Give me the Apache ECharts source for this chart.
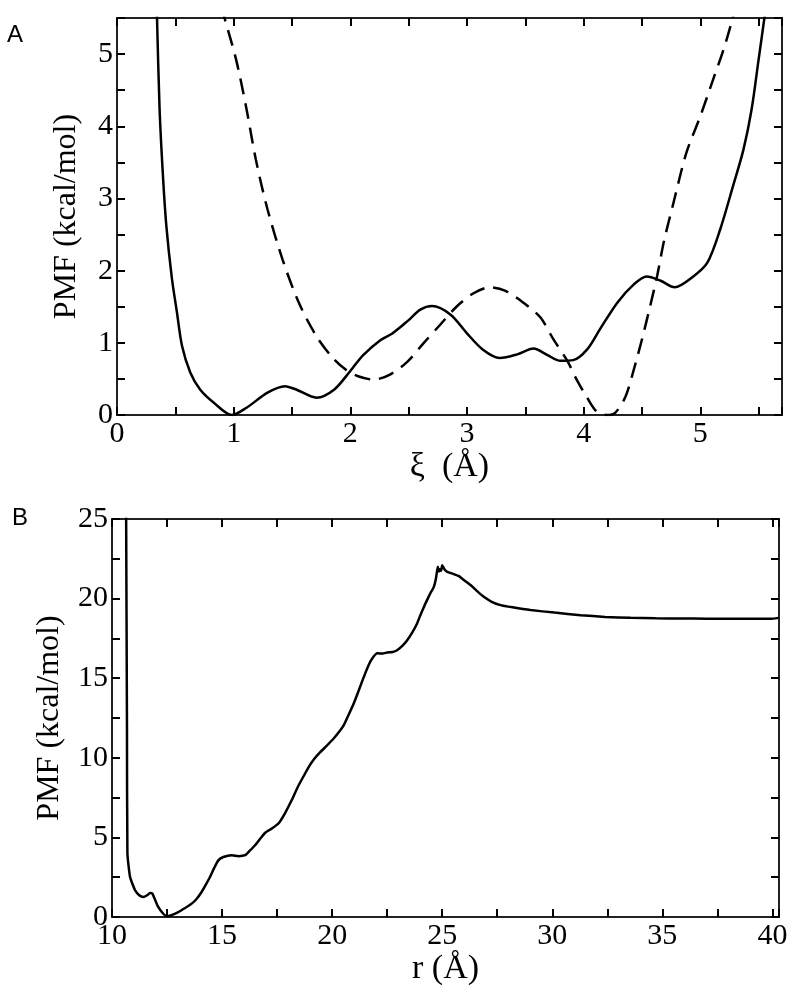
<!DOCTYPE html>
<html><head><meta charset="utf-8">
<script src="https://cdn.jsdelivr.net/npm/echarts@6/dist/echarts.min.js"></script>
<style>html,body{margin:0;padding:0;background:#fff}#c{width:800px;height:990px}</style>
</head><body><div id="c"></div><script>
// Panel A: PMF vs xi (Å)
const aSolidXi = [0.335,0.343,0.365,0.394,0.423,0.47,0.514,0.557,0.628,0.714,0.83,0.985,1.11,1.29,1.44,1.54,1.71,1.86,2.0,2.11,2.26,2.36,2.49,2.60,2.70,2.86,3.0,3.14,3.28,3.43,3.57,3.69,3.80,3.91,4.03,4.14,4.29,4.43,4.54,4.66,4.78,4.94,5.06,5.17,5.28,5.37,5.44,5.50,5.55,5.59];
const aSolidPmf = [6.0,5.5,4.24,3.31,2.62,1.90,1.42,0.96,0.59,0.35,0.17,0.0,0.10,0.31,0.40,0.35,0.24,0.35,0.61,0.83,1.04,1.13,1.30,1.46,1.51,1.39,1.13,0.90,0.79,0.84,0.92,0.83,0.75,0.76,0.91,1.19,1.56,1.81,1.92,1.86,1.77,1.92,2.11,2.57,3.17,3.68,4.24,4.93,5.51,6.0];
const aDashXi = [0.84,0.92,1.02,1.11,1.19,1.29,1.42,1.56,1.71,1.85,1.96,2.06,2.20,2.34,2.49,2.63,2.77,2.91,3.06,3.20,3.33,3.48,3.63,3.74,3.86,3.94,4.03,4.11,4.20,4.27,4.36,4.43,4.50,4.57,4.63,4.69,4.77,4.88,5.0,5.11,5.20,5.28,5.35];
const aDashPmf = [6.0,5.51,4.93,4.24,3.54,2.85,2.15,1.55,1.09,0.79,0.63,0.54,0.49,0.56,0.74,1.0,1.25,1.50,1.69,1.77,1.72,1.56,1.35,1.05,0.75,0.49,0.24,0.05,0.0,0.03,0.26,0.63,1.05,1.51,1.93,2.42,2.94,3.63,4.14,4.65,5.07,5.51,5.95];
// Panel B: PMF vs r (Å)
const bR = [10.64,10.68,10.70,10.82,11.05,11.25,11.42,11.58,11.73,11.83,11.95,12.10,12.30,12.48,12.7,13.01,13.3,13.62,13.85,14.07,14.25,14.45,14.65,14.83,15.06,15.44,15.75,16.05,16.25,16.50,16.75,16.95,17.25,17.56,17.85,18.16,18.45,18.77,18.94,19.2,19.47,19.75,20.07,20.3,20.53,20.75,20.98,21.2,21.44,21.65,21.82,22.05,22.3,22.5,22.75,22.95,23.2,23.41,23.65,23.86,24.05,24.24,24.45,24.62,24.72,24.80,24.85,24.89,24.95,25.0,25.1,25.23,25.5,25.76,26.0,26.29,26.6,26.89,27.25,27.65,28.2,29.01,30.1,31.29,32.4,33.56,34.7,35.83,37.0,38.1,39.0,39.92,40.27];
const bPmf = [26,12,4.0,2.51,1.68,1.35,1.26,1.35,1.51,1.47,1.1,0.63,0.25,0.05,0.12,0.31,0.55,0.84,1.15,1.57,2.0,2.51,3.1,3.56,3.77,3.88,3.82,3.88,4.15,4.51,4.95,5.28,5.55,5.87,6.5,7.33,8.2,9.01,9.43,9.95,10.37,10.75,11.21,11.6,12.05,12.7,13.41,14.2,15.08,15.8,16.24,16.56,16.55,16.62,16.65,16.76,17.05,17.39,17.9,18.44,19.1,19.70,20.3,20.74,21.3,22.0,21.7,21.85,21.75,22.1,21.85,21.68,21.55,21.41,21.15,20.85,20.45,20.11,19.8,19.59,19.45,19.28,19.12,18.96,18.85,18.79,18.76,18.75,18.74,18.73,18.73,18.73,18.79];

const serif = 'Liberation Serif';
const pair = (xs, ys) => xs.map((x, i) => [x, ys[i]]);
const lineCol = '#222';
function axis(grid, pos, min, max, step, labelEvery, name, nameGap, labelSize, nameSize) {
  const show = pos === 'bottom' || pos === 'left';
  const o = {
    type: 'value', gridIndex: grid, position: pos, min: min, max: max, interval: step,
    axisLine: { show: true, onZero: false, lineStyle: { color: lineCol, width: 2 } },
    axisTick: { show: true, inside: true, length: 8, lineStyle: { color: '#000', width: 2 } },
    splitLine: { show: false },
    axisLabel: {
      show: show, color: '#000', fontFamily: serif, fontSize: labelSize, margin: 4,
      formatter: v => (Math.abs(v / labelEvery - Math.round(v / labelEvery)) < 1e-6) ? String(Math.round(v)) : ''
    }
  };
  if (show && name) {
    o.name = name; o.nameLocation = 'middle'; o.nameGap = nameGap;
    o.nameTextStyle = { color: '#000', fontFamily: serif, fontSize: nameSize };
  }
  return o;
}
const chart = echarts.init(document.getElementById('c'), null, { renderer: 'canvas' });
chart.setOption({
  backgroundColor: '#fff',
  animation: false,
  grid: [
    { left: 117, top: 18, width: 665, height: 397 },
    { left: 112, top: 519, width: 667, height: 398 }
  ],
  xAxis: [
    axis(0, 'bottom', 0, 5.7, 0.5, 1, 'ξ  (Å)', 34, 30, 34),
    axis(0, 'top', 0, 5.7, 0.5, 1),
    axis(1, 'bottom', 10, 40.3, 2.5, 5, 'r (Å)', 32, 30, 34),
    axis(1, 'top', 10, 40.3, 2.5, 5)
  ],
  yAxis: [
    axis(0, 'left', 0, 5.5, 0.5, 1, 'PMF (kcal/mol)', 34, 30, 32),
    axis(0, 'right', 0, 5.5, 0.5, 1),
    axis(1, 'left', 0, 25, 2.5, 5, 'PMF (kcal/mol)', 46, 30, 32),
    axis(1, 'right', 0, 25, 2.5, 5)
  ],
  graphic: [
    { type: 'text', left: 7, top: 23, style: { text: 'A', fontSize: 24, fontFamily: 'Liberation Sans', fill: '#000' } },
    { type: 'text', left: 12, top: 506, style: { text: 'B', fontSize: 24, fontFamily: 'Liberation Sans', fill: '#000' } }
  ],
  series: [
    { type: 'line', xAxisIndex: 0, yAxisIndex: 0, data: pair(aSolidXi, aSolidPmf), showSymbol: false, smooth: 0.3, clip: true,
      lineStyle: { color: '#000', width: 2.5 } },
    { type: 'line', xAxisIndex: 0, yAxisIndex: 0, data: pair(aDashXi, aDashPmf), showSymbol: false, smooth: 0.3, clip: true,
      lineStyle: { color: '#000', width: 2.5, type: [16, 9] } },
    { type: 'line', xAxisIndex: 2, yAxisIndex: 2, data: pair(bR, bPmf), showSymbol: false, smooth: 0.15, clip: true,
      lineStyle: { color: '#000', width: 2.5 } }
  ]
});
</script></body></html>
